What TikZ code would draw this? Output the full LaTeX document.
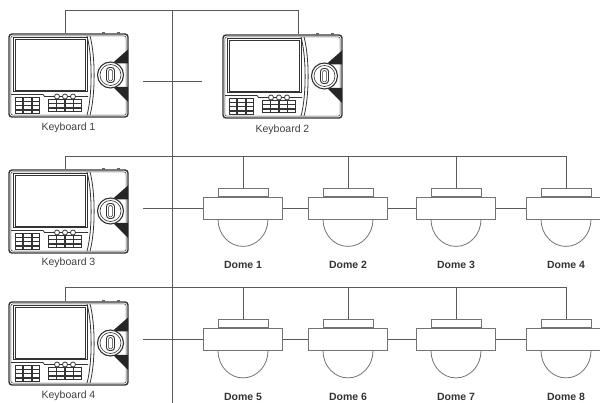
\documentclass[tikz,border=0pt]{standalone}
\usepackage{fontspec}
\setmainfont{Liberation Sans}
\tikzset{
 wire/.style={draw=black!65, line width=0.7pt},
 kbox/.style={draw=black!80, line width=1.4pt, rounded corners=3pt, minimum width=119pt, minimum height=83pt, inner sep=0pt, fill=white},
 capbox/.style={draw=black!55, line width=0.8pt, minimum width=50pt, minimum height=8pt, inner sep=0pt, fill=white},
 bodybox/.style={draw=black!55, line width=0.8pt, minimum width=79pt, minimum height=22pt, inner sep=0pt, fill=white},
 domeline/.style={draw=black!55, line width=0.8pt},
 klabel/.style={font=\fontsize{10.5}{12}\selectfont, text=black!75},
 dlabel/.style={font=\bfseries\fontsize{10.5}{12}\selectfont, text=black!80},
}
\newcommand\kbd[5]{%
 \node[kbox] (#1) at (#2+59.5,#3+41.5) {};
 \begin{scope}[shift={(#2,#3)}, color=black!80, line width=0.8pt]
  \fill[black!60] (93,-1.6) rectangle (96,0);
  \fill[black!60] (108,-1.6) rectangle (111,0);
  \draw[line width=0.5pt, rounded corners=2pt] (1.9,1.9) rectangle (117.1,81.1);
  \draw (78,1.9) .. controls (83.5,22) and (83.5,61) .. (78,81.1);
  \draw (81,1.9) .. controls (86.5,22) and (86.5,61) .. (81,81.1);
  \draw[line width=1pt] (4,3.5) rectangle (78,58);
  \draw[line width=0.5pt] (5.8,5.3) rectangle (76.2,56.2);
  \draw (2,60.5) -- (34,60.5) -- (35.5,62.5) -- (79,62.5);
  \foreach \i in {0,1,2} \foreach \j in {0,...,3}
   \draw[line width=0.7pt] (6.5+\i*8.3, 63.6+\j*4.1) rectangle ++(7.3,3.3);
  \foreach \i in {0,...,3} \foreach \j in {0,1,2}
   \draw[line width=0.7pt] (39.3+\i*8.5, 65.5+\j*4.3) rectangle ++(7.7,3.5);
  \foreach \x in {48,56,64} \draw[fill=white, line width=0.8pt] (\x,62.5) circle[radius=2.5];
  \fill[black!85] (103,29.5) -- (119,15.5) -- (119,29.5) -- cycle;
  \fill[black!85] (104,53) -- (119,53) -- (119,68) -- cycle;
  \draw[fill=white, line width=1.1pt] (101.5,41) circle[radius=13];
  \draw[line width=0.6pt] (101.5,41) circle[radius=10.5];
  \draw[line width=0.9pt, rounded corners=3pt] (97.5,48.5) rectangle (105.5,33.5);
  \draw[line width=0.5pt, rounded corners=1.5pt] (99.5,47) rectangle (103.5,35.5);
 \end{scope}
 \node[klabel] (#1l) at (#2+59.5,#3+#5) {#4};
}
\newcommand\dome[4]{%
 \node[bodybox] (#1) at (#2,#3) {};
 \node[capbox, anchor=south] (#1c) at (#1.north) {};
 \draw[domeline] ([xshift=-25pt]#1.south) arc[start angle=180, end angle=0, x radius=25, y radius=27];
 \node[dlabel] (#1l) at (#2,#3+57) {#4};
}
\begin{document}
\begin{tikzpicture}[x=1pt,y=-1pt]
\useasboundingbox (0,0) rectangle (600,403);
\clip (0,0) rectangle (600,403);
% coordinates for wiring
\coordinate (tA) at (65,10);
\coordinate (tB) at (298,10);
\coordinate (vT) at (172,10);
\coordinate (vB) at (172,403);
\coordinate (s1a) at (143,81);
\coordinate (s1b) at (202,81);
\coordinate (s3) at (143,208);
\coordinate (s4) at (143,339.5);
\coordinate (b1L) at (65,156);
\coordinate (b1R) at (566,156);
\coordinate (b2L) at (65,287);
\coordinate (b2R) at (566,287);
% keyboards
\kbd{k1}{9}{34}{Keyboard 1}{94}
\kbd{k2}{223}{35}{Keyboard 2}{95}
\kbd{k3}{9}{170}{Keyboard 3}{92.5}
\kbd{k4}{9}{302}{Keyboard 4}{94}
% domes
\dome{d1}{243}{208}{Dome 1}
\dome{d2}{348}{208}{Dome 2}
\dome{d3}{456}{208}{Dome 3}
\dome{d4}{566}{208}{Dome 4}
\dome{d5}{243}{339.5}{Dome 5}
\dome{d6}{348}{339.5}{Dome 6}
\dome{d7}{456}{339.5}{Dome 7}
\dome{d8}{566}{339.5}{Dome 8}
% wiring
\draw[wire] (k1.north -| tA) -- (tA) -- (tB) -- (k2.north -| tB);
\draw[wire] (vT) -- (vB);
\draw[wire] (s1a) -- (s1b);
\draw[wire] (k3.north -| b1L) -- (b1L) -- (b1R) -- (d4c.north);
\draw[wire] (d1c.north) -- (d1c.north |- b1L);
\draw[wire] (d2c.north) -- (d2c.north |- b1L);
\draw[wire] (d3c.north) -- (d3c.north |- b1L);
\draw[wire] (k4.north -| b2L) -- (b2L) -- (b2R) -- (d8c.north);
\draw[wire] (d5c.north) -- (d5c.north |- b2L);
\draw[wire] (d6c.north) -- (d6c.north |- b2L);
\draw[wire] (d7c.north) -- (d7c.north |- b2L);
\draw[wire] (s3) -- (d1.west);
\draw[wire] (d1.east) -- (d2.west);
\draw[wire] (d2.east) -- (d3.west);
\draw[wire] (d3.east) -- (d4.west);
\draw[wire] (s4) -- (d5.west);
\draw[wire] (d5.east) -- (d6.west);
\draw[wire] (d6.east) -- (d7.west);
\draw[wire] (d7.east) -- (d8.west);
\end{tikzpicture}
\end{document}
